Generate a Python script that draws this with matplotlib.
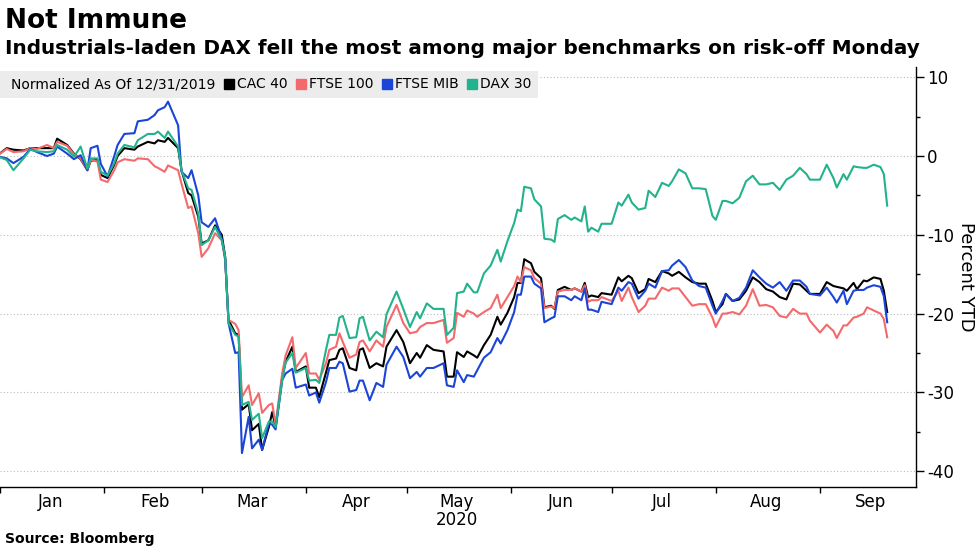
import pandas as pd
import matplotlib.pyplot as plt
import matplotlib.dates as mdates
from matplotlib.lines import Line2D
from matplotlib.ticker import MultipleLocator

plt.rcParams['axes.unicode_minus'] = False

# dates of the readings (roughly every 1-2 trading days)
dates = [
    '2019-12-31', '2020-01-03', '2020-01-05', '2020-01-08', '2020-01-10', '2020-01-12',
    '2020-01-15', '2020-01-17', '2020-01-18', '2020-01-21', '2020-01-23', '2020-01-25',
    '2020-01-27', '2020-01-28', '2020-01-30', '2020-01-31', '2020-02-02', '2020-02-04',
    '2020-02-05', '2020-02-07', '2020-02-10', '2020-02-11', '2020-02-14', '2020-02-16',
    '2020-02-17',
    '2020-02-19', '2020-02-20', '2020-02-23', '2020-02-24', '2020-02-26', '2020-02-27',
    '2020-02-29', '2020-03-01', '2020-03-03', '2020-03-05', '2020-03-07', '2020-03-08',
    '2020-03-09', '2020-03-11', '2020-03-12', '2020-03-13', '2020-03-15', '2020-03-16',
    '2020-03-18', '2020-03-19', '2020-03-21', '2020-03-22', '2020-03-23', '2020-03-25',
    '2020-03-26', '2020-03-28', '2020-03-29',
    '2020-04-01', '2020-04-02', '2020-04-04', '2020-04-05', '2020-04-07', '2020-04-08',
    '2020-04-10', '2020-04-11', '2020-04-12', '2020-04-14', '2020-04-16', '2020-04-17',
    '2020-04-18', '2020-04-20', '2020-04-22', '2020-04-24', '2020-04-25', '2020-04-28',
    '2020-04-30', '2020-05-02', '2020-05-04', '2020-05-05', '2020-05-07', '2020-05-09',
    '2020-05-12', '2020-05-13', '2020-05-15', '2020-05-16', '2020-05-18', '2020-05-19',
    '2020-05-21', '2020-05-22', '2020-05-24', '2020-05-26', '2020-05-28', '2020-05-29',
    '2020-05-31', '2020-06-02', '2020-06-03', '2020-06-04', '2020-06-05', '2020-06-07',
    '2020-06-08', '2020-06-10', '2020-06-11', '2020-06-13', '2020-06-14', '2020-06-15',
    '2020-06-17', '2020-06-19', '2020-06-20', '2020-06-22', '2020-06-23', '2020-06-24',
    '2020-06-25', '2020-06-27', '2020-06-28',
    '2020-07-01', '2020-07-03', '2020-07-04', '2020-07-06', '2020-07-07', '2020-07-09',
    '2020-07-11', '2020-07-12', '2020-07-14', '2020-07-16', '2020-07-18', '2020-07-19',
    '2020-07-21', '2020-07-23', '2020-07-25', '2020-07-27', '2020-07-29', '2020-07-31',
    '2020-08-01', '2020-08-03', '2020-08-04', '2020-08-06', '2020-08-08', '2020-08-10',
    '2020-08-12', '2020-08-14', '2020-08-16', '2020-08-18', '2020-08-20', '2020-08-22',
    '2020-08-24', '2020-08-26', '2020-08-28', '2020-08-29', '2020-09-01', '2020-09-03',
    '2020-09-05', '2020-09-06', '2020-09-08', '2020-09-09', '2020-09-11', '2020-09-12',
    '2020-09-14', '2020-09-15', '2020-09-17', '2020-09-19', '2020-09-20', '2020-09-21',
]

cac40 = [
    0, 1.0, 0.8, 0.7, 1.0, 1.0, 1.0, 1.0, 2.2, 1.4, 0.3, -0.4, -1.8, -0.6, -0.5, -2.4,
    -2.8, -1.1, 0.0, 1.0, 0.8, 1.2, 1.8, 1.6, 2.0,
    1.8, 2.3, 1.0, -1.8, -4.7, -5.0, -7.7, -11.1, -10.7, -8.8, -10.0, -12.8, -20.8,
    -22.5, -22.7, -32.2, -31.5, -34.8, -34.0, -37.3, -34.4, -32.5, -34.4, -28.0, -26.1,
    -24.2, -27.4,
    -26.7, -29.4, -29.4, -30.6, -27.5, -25.9, -25.7, -24.6, -24.4, -26.9, -27.2, -24.6,
    -24.4, -26.9, -26.3, -26.7, -24.2, -22.1, -23.6, -26.3, -25.0, -25.6, -24.0, -24.6,
    -24.8, -28.0, -28.0, -24.9, -25.5, -24.8,
    -25.3, -25.6, -24.0, -22.7, -20.4, -21.4, -19.9, -17.9, -16.1, -16.1, -13.1, -13.6,
    -14.7, -15.5, -19.2, -19.0, -19.4, -17.0, -16.6, -17.0, -16.8, -17.2, -16.1, -17.9,
    -17.7, -17.9, -17.4,
    -17.6, -15.4, -15.9, -15.2, -15.5, -17.4, -16.9, -15.6, -16.0, -14.6, -14.9, -15.2,
    -14.7, -15.4, -16.0, -16.2, -16.2, -18.4, -19.8, -18.8, -17.5, -18.4, -18.2, -17.1,
    -15.4, -16.0, -16.9, -17.2, -17.9, -18.2, -16.2, -16.3, -17.1, -17.5, -17.5, -16.0,
    -16.5, -16.6, -16.8, -17.1, -16.1, -16.9, -15.8, -15.9, -15.4, -15.6, -17.1, -19.8,
]

ftse100 = [
    0, 0.9, 0.5, 0.6, 1.0, 0.9, 1.4, 1.0, 1.8, 1.3, 0.2, -0.3, -1.8, -0.5, -0.7, -3.0,
    -3.3, -1.8, -0.8, -0.4, -0.6, -0.3, -0.4, -1.3, -1.5,
    -2.0, -1.2, -1.8, -3.5, -6.6, -6.4, -9.8, -12.8, -11.7, -9.8, -10.7, -13.2, -20.8,
    -21.3, -22.1, -30.6, -29.1, -31.6, -30.1, -32.6, -31.6, -31.4, -34.1, -27.5, -25.3,
    -23.0, -26.9,
    -25.0, -27.6, -27.6, -28.4, -26.3, -24.6, -24.2, -22.5, -23.6, -25.6, -25.2, -23.6,
    -23.4, -24.8, -23.4, -24.2, -21.7, -18.9, -21.2, -22.5, -22.3, -21.7, -21.2, -21.2,
    -20.8, -23.7, -23.1, -19.9, -20.4, -19.6,
    -20.0, -20.4, -19.8, -19.3, -17.6, -19.3, -17.9, -16.5, -15.3, -16.0, -14.1, -14.5,
    -15.5, -16.2, -19.3, -19.1, -19.3, -17.2, -17.0, -17.0, -16.8, -17.2, -16.4, -18.5,
    -18.3, -18.3, -17.9,
    -18.4, -17.1, -18.4, -16.7, -17.9, -19.8, -19.0, -18.1, -18.1, -16.7, -17.1, -16.8,
    -16.8, -17.9, -19.0, -18.8, -18.8, -20.5, -21.7, -20.0, -20.0, -19.8, -20.1, -19.0,
    -16.9, -19.0, -18.9, -19.2, -20.3, -20.5, -19.4, -20.0, -20.0, -20.9, -22.4, -21.4,
    -22.2, -23.1, -21.5, -21.5, -20.5, -20.4, -20.0, -19.2, -19.6, -20.0, -20.7, -23.0,
]

ftse_mib = [
    0, -0.3, -0.9, -0.1, 0.9, 0.5, 0.0, 0.3, 1.2, 0.3, -0.4, 0.1, -1.8, 1.0, 1.3, -1.0,
    -2.6, 0.0, 1.4, 2.8, 2.9, 4.4, 4.6, 5.2, 5.8,
    6.2, 6.9, 3.9, -2.0, -2.8, -1.8, -5.0, -8.4, -9.0, -7.9, -10.5, -13.0, -21.2,
    -25.0, -24.9, -37.7, -33.1, -37.1, -36.0, -37.3, -33.9, -34.1, -34.7, -28.4, -27.6,
    -27.0, -29.4,
    -29.0, -30.4, -30.0, -31.3, -28.7, -26.9, -26.9, -26.1, -26.3, -29.9, -29.7, -28.5,
    -28.5, -31.0, -28.8, -29.3, -26.5, -24.2, -25.5, -28.2, -27.4, -28.0, -26.9, -26.9,
    -26.3, -29.1, -29.3, -27.2, -28.7, -27.8,
    -28.0, -27.2, -25.6, -24.9, -23.1, -23.8, -22.1, -19.8, -17.6, -17.6, -15.3, -15.3,
    -16.2, -16.8, -21.1, -20.6, -20.4, -17.8, -17.8, -18.3, -17.8, -18.3, -16.8, -19.5,
    -19.5, -19.8, -18.5,
    -18.8, -16.7, -17.1, -16.0, -16.2, -18.1, -17.1, -16.2, -16.7, -14.6, -14.5, -13.9,
    -13.2, -14.1, -15.8, -16.5, -16.7, -19.0, -20.0, -18.4, -17.5, -18.4, -18.0, -16.7,
    -14.5, -15.4, -16.2, -16.7, -16.0, -17.1, -15.8, -15.8, -16.6, -17.5, -17.7, -16.7,
    -17.9, -18.6, -17.1, -18.8, -17.1, -17.0, -17.0, -16.7, -16.4, -16.6, -17.8, -21.1,
]

dax30 = [
    0, -0.5, -1.8, -0.3, 0.8, 0.6, 0.5, 0.6, 1.4, 0.8, -0.1, 1.2, -1.6, -0.3, -0.3, -2.0,
    -2.5, -0.9, 0.3, 1.4, 1.1, 2.0, 2.8, 2.8, 3.1,
    2.3, 3.1, 1.2, -1.8, -4.1, -4.3, -7.3, -11.3, -10.7, -9.0, -10.7, -12.8, -21.2,
    -22.7, -22.9, -31.6, -31.2, -33.5, -32.7, -35.8, -33.7, -33.7, -34.4, -28.4, -26.2,
    -25.0, -27.5,
    -26.9, -28.5, -28.4, -28.8, -24.6, -22.7, -22.7, -20.5, -20.3, -23.1, -23.0, -20.6,
    -20.4, -23.4, -22.3, -23.0, -20.1, -17.2, -19.4, -21.7, -19.8, -20.6, -18.7, -19.4,
    -19.4, -22.7, -21.8, -17.4, -17.2, -16.2,
    -17.3, -17.3, -14.9, -13.9, -11.9, -13.4, -10.8, -8.5, -6.8, -7.0, -3.9, -4.1,
    -5.5, -6.4, -10.5, -10.6, -10.9, -8.0, -7.5, -8.1, -7.8, -8.3, -6.4, -9.6,
    -9.1, -9.6, -8.6,
    -8.6, -5.9, -6.3, -4.9, -5.9, -6.8, -6.6, -4.4, -5.2, -3.4, -3.8, -3.2,
    -1.7, -2.2, -4.1, -4.1, -4.2, -7.6, -8.1, -5.7, -5.7, -6.0, -5.3, -3.2,
    -2.5, -3.6, -3.6, -3.4, -4.3, -3.0, -2.5, -1.5, -2.3, -3.0, -3.0, -1.1,
    -2.8, -4.0, -2.3, -3.0, -1.3, -1.4, -1.5, -1.5, -1.1, -1.4, -2.3, -6.3,
]

series_names = ['CAC 40', 'FTSE 100', 'FTSE MIB', 'DAX 30']
series_colors = ['#000000', '#f4696b', '#1a45d6', '#22b38c']

x = pd.to_datetime(dates)

fig = plt.figure(figsize=(9.77, 5.49), dpi=100)
ax = fig.add_axes([0.0, 0.113, 0.9376, 0.765])

for vals, name, col in zip([cac40, ftse100, ftse_mib, dax30], series_names, series_colors):
    ax.plot(x, vals, color=col, lw=1.5, label=name)

ax.set_ylim(-42, 11.3)
ax.set_xlim(pd.Timestamp('2020-01-01'), pd.Timestamp('2020-09-29 14:00'))

# y axis on the right
ax.yaxis.tick_right()
ax.yaxis.set_label_position('right')
ax.yaxis.set_major_locator(MultipleLocator(10))
ax.yaxis.set_minor_locator(MultipleLocator(5))
ax.tick_params(axis='y', which='major', length=6, width=1, labelsize=12, pad=2)
ax.tick_params(axis='y', which='minor', length=3, width=1)
ax.set_ylabel('Percent YTD', rotation=270, fontsize=13, labelpad=15)
ax.grid(axis='y', which='major', color='#bbbbbb', linestyle=(0, (1, 2)), lw=0.8)

# month ticks at month starts, labels centred mid-month
ax.xaxis.set_major_locator(mdates.MonthLocator())
ax.xaxis.set_major_formatter(plt.NullFormatter())
ax.xaxis.set_minor_locator(mdates.MonthLocator(bymonthday=16))
ax.xaxis.set_minor_formatter(mdates.DateFormatter('%b'))
ax.tick_params(axis='x', which='major', length=4, width=1)
ax.tick_params(axis='x', which='minor', length=0, labelsize=12, pad=4)
ax.text(pd.Timestamp('2020-05-16'), -0.058, '2020', transform=ax.get_xaxis_transform(),
        ha='center', va='top', fontsize=12)

for s in ['top', 'left']:
    ax.spines[s].set_visible(False)
ax.spines['right'].set_linewidth(1)
ax.spines['bottom'].set_linewidth(1)

# legend strip
handles = [Line2D([], [], linestyle='none')]
handles += [Line2D([], [], linestyle='none', marker='s', markersize=7, color=c) for c in series_colors]
leg = ax.legend(handles, ['Normalized As Of 12/31/2019'] + series_names, ncol=5,
                loc='upper left', bbox_to_anchor=(-0.008, 0.99), frameon=True, fontsize=10,
                handlelength=0.6, handletextpad=0.25, columnspacing=0.7, borderpad=0.45,
                borderaxespad=0)
leg.get_frame().set_facecolor('#ececec')
leg.get_frame().set_edgecolor('none')
leg.get_frame().set_boxstyle('square', pad=0)
leg.get_frame().set_alpha(1)

fig.text(0.005, 0.962, 'Not Immune', fontsize=19, fontweight='bold', va='center', ha='left')
fig.text(0.005, 0.912, 'Industrials-laden DAX fell the most among major benchmarks on risk-off Monday',
         fontsize=14.4, fontweight='bold', va='center', ha='left')
fig.text(0.005, 0.006, 'Source: Bloomberg', fontsize=10, fontweight='bold', va='bottom', ha='left')

fig.savefig('out.png', dpi=100)
